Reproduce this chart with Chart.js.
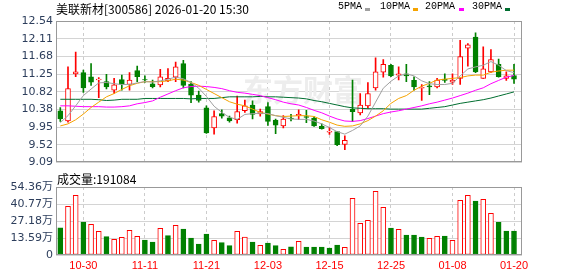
<!DOCTYPE html>
<html>
<head>
<meta charset="utf-8">
<script src="https://cdn.jsdelivr.net/npm/chart.js@4.4.1/dist/chart.umd.min.js"></script>
<style>
  body { margin: 0; background: #fff; }
  #wrap { position: relative; width: 578px; height: 276px; overflow: hidden; }
  canvas { position: absolute; left: 0; }
  .txt { position: absolute; white-space: nowrap; line-height: 16px; color: #000; }
  .cjk { font: 12px "Noto Sans CJK SC", sans-serif; }
  .lg { font: 10px "Liberation Mono", monospace; top: 1px; }
  .sq { position: absolute; top: 8px; width: 5px; height: 3px; }
</style>
</head>
<body>
<div id="wrap">
  <canvas id="price" width="578" height="172" style="top:0"></canvas>
  <canvas id="vol" width="578" height="104" style="top:172px"></canvas>
  <div class="txt cjk" style="left:56px;top:0">美联新材[300586] 2026-01-20 15:30</div>
  <div class="txt lg" style="left:338px">5PMA</div><div class="sq" style="left:365px;background:#a0a0a0"></div>
  <div class="txt lg" style="left:380px">10PMA</div><div class="sq" style="left:413px;background:#f5a300"></div>
  <div class="txt lg" style="left:425px">20PMA</div><div class="sq" style="left:459px;background:#ff00ff"></div>
  <div class="txt lg" style="left:472px">30PMA</div><div class="sq" style="left:505px;background:#006e30"></div>
  <div class="txt cjk" style="left:57px;top:170px">成交量:191084</div>
</div>
<script>
// daily candles, 2025-10-27 .. 2026-01-20
const openP  = [10.35,10.10,11.25,11.28,11.18,11.10,11.06,10.85,11.11,10.99,
                11.33,11.11,11.01,10.98,11.08,11.17,11.50,11.00,10.73,10.42,
                9.93,10.28,10.18,10.13,10.35,10.49,10.27,10.45,10.12,9.98,
                10.17,10.23,10.21,10.17,9.97,9.83,9.84,9.53,10.39,10.30,
                10.47,10.91,11.29,11.46,11.22,11.25,11.09,10.90,10.96,10.93,
                11.12,11.05,11.14,11.88,12.15,11.14,11.30,11.48,11.14,11.21];
const closeP = [10.15,10.89,11.30,10.91,11.05,11.12,10.93,10.98,10.99,11.10,
                11.18,11.10,10.94,11.18,11.14,11.42,10.97,10.73,10.60,9.81,
                10.21,10.22,10.10,10.33,10.47,10.26,10.33,10.09,10.00,10.15,
                10.15,10.26,10.19,9.98,9.91,9.85,9.52,9.63,10.33,10.49,
                10.77,11.30,11.48,11.20,11.25,11.20,10.93,10.92,10.93,11.10,
                11.09,11.10,11.67,11.96,11.30,11.37,11.60,11.18,11.20,11.12];
const highP  = [10.43,11.42,11.78,11.34,11.50,11.16,11.24,11.14,11.22,11.28,
                11.44,11.20,11.10,11.36,11.38,11.54,11.58,11.06,10.83,10.47,
                10.35,10.37,10.22,10.71,10.61,10.59,10.39,10.55,10.15,10.23,
                10.26,10.37,10.36,10.21,10.03,9.95,9.84,9.74,11.10,10.77,
                11.04,11.64,11.60,11.48,11.42,11.48,11.18,10.99,11.06,11.14,
                11.25,11.25,12.07,11.99,12.25,11.91,11.84,11.61,11.30,11.48];
const lowP   = [10.09,10.07,11.18,10.80,10.97,10.67,10.88,10.77,10.85,10.85,
                11.06,11.04,10.91,10.93,11.06,11.06,10.91,10.55,10.56,9.80,
                9.78,10.17,10.07,10.05,10.31,10.15,10.22,9.99,9.79,9.93,
                10.10,10.13,10.06,9.97,9.90,9.77,9.50,9.40,10.09,10.25,
                10.41,10.85,11.17,11.18,11.10,11.06,10.85,10.60,10.74,10.91,
                11.04,10.99,10.99,11.44,11.28,11.14,11.28,11.17,11.09,11.02];

const ma5  = [10.06,10.23,10.47,10.72,10.88,11.03,11.04,11.01,10.99,10.99,
              11.03,11.06,11.05,11.08,11.12,11.17,11.13,11.04,10.90,10.70,
              10.46,10.31,10.19,10.14,10.26,10.28,10.29,10.28,10.23,10.19,
              10.15,10.14,10.14,10.10,10.03,9.94,9.84,9.78,9.87,9.98,
              10.22,10.56,10.90,11.07,11.20,11.25,11.20,11.08,11.01,10.99,
              10.99,11.02,11.20,11.37,11.42,11.46,11.55,11.46,11.33,11.28];
const ma10 = [9.98,10.03,10.13,10.27,10.43,10.56,10.69,10.77,10.87,10.96,
              11.02,11.06,11.06,11.06,11.08,11.12,11.10,11.04,10.97,10.87,
              10.77,10.67,10.57,10.51,10.47,10.39,10.31,10.27,10.23,10.21,
              10.22,10.23,10.23,10.21,10.13,10.07,10.00,9.97,9.98,10.03,
              10.11,10.22,10.35,10.53,10.65,10.72,10.85,10.95,11.02,11.10,
              11.12,11.14,11.16,11.20,11.22,11.22,11.29,11.32,11.34,11.34];
const ma20 = [10.47,10.47,10.46,10.45,10.45,10.45,10.44,10.44,10.45,10.47,
              10.52,10.55,10.59,10.68,10.76,10.84,10.91,10.94,10.95,10.94,
              10.92,10.89,10.84,10.80,10.78,10.75,10.72,10.67,10.62,10.56,
              10.52,10.49,10.43,10.36,10.30,10.22,10.15,10.10,10.09,10.11,
              10.16,10.22,10.28,10.32,10.35,10.39,10.43,10.47,10.52,10.56,
              10.61,10.66,10.72,10.78,10.85,10.91,11.01,11.09,11.17,11.21];
const ma30 = [10.63,10.63,10.63,10.63,10.63,10.62,10.60,10.61,10.63,10.63,
              10.63,10.65,10.65,10.65,10.65,10.65,10.65,10.64,10.65,10.65,
              10.65,10.67,10.69,10.69,10.69,10.69,10.70,10.69,10.69,10.68,
              10.67,10.66,10.64,10.60,10.57,10.53,10.49,10.45,10.42,10.41,
              10.40,10.40,10.40,10.39,10.39,10.39,10.39,10.39,10.41,10.43,
              10.45,10.49,10.53,10.56,10.59,10.62,10.66,10.71,10.76,10.81];

// volume in 万, up = close above previous close
const vol   = [21.8,38.9,47.7,26.4,24.5,18.9,14.7,12.5,14.1,19.7,
               14.9,12.0,10.4,21.3,15.5,23.7,20.8,13.6,8.8,16.8,
               11.7,9.9,7.5,18.9,14.4,10.4,7.7,9.6,7.5,4.5,
               6.6,10.9,6.4,6.4,6.4,5.6,8.0,6.1,45.3,25.3,
               27.7,50.9,38.1,21.6,20.5,16.0,16.0,14.4,13.3,14.9,
               15.2,11.7,43.7,47.7,43.2,44.5,33.3,26.1,19.2,19.11];
const volUp = [0,1,1,0,1,1,0,1,1,1, 1,0,0,1,0,1,0,0,0,0,
               1,0,0,1,1,0,1,0,0,1, 0,1,0,0,0,0,0,1,1,1,
               1,1,1,0,1,0,0,0,1,1, 0,1,1,1,0,1,1,0,0,0];

const xTickIdx    = [3, 11, 19, 27, 35, 43, 51, 59];
const xTickLabels = ['10-30','11-11','11-21','12-03','12-15','12-25','01-08','01-20'];
const priceTicks  = ['9.09','9.52','9.95','10.38','10.82','11.25','11.68','12.11','12.54'];
const volTicks    = ['0','13.59万','27.18万','40.77万','54.36万'];

const P_MIN = 9.09, P_MAX = 12.54, V_MAX = 54.36;
const X_MIN = -0.56, X_MAX = 60.04;
const UP = '#ff0000', DOWN = '#008000';
const LABEL = '#2d3e5c';
const tickFont = {family: '"DejaVu Sans", "Noto Sans CJK SC"', size: 11};

const frame = {
  id: 'frame',
  afterDraw(chart) {
    const {ctx, chartArea: a} = chart;
    ctx.save();
    ctx.strokeStyle = '#999';
    ctx.lineWidth = 1;
    ctx.strokeRect(Math.round(a.left) + 0.5, Math.round(a.top) + 0.5,
                   Math.round(a.right - a.left) - 1, Math.round(a.bottom - a.top) - 1);
    ctx.restore();
  }
};

const watermark = {
  id: 'watermark',
  beforeDatasetsDraw(chart) {
    const ctx = chart.ctx;
    ctx.save();
    ctx.font = 'bold 30px "Noto Sans CJK SC"';
    ctx.fillStyle = '#ededed';
    ctx.textBaseline = 'middle';
    ctx.fillText('东方财富', 243, 90);
    ctx.restore();
  }
};

const xScale = (showLabels, h) => ({
  type: 'linear', min: X_MIN, max: X_MAX, offset: false,
  afterBuildTicks: s => { s.ticks = xTickIdx.map(v => ({value: v})); },
  afterFit: s => { s.height = h; },
  ticks: {
    display: showLabels, autoSkip: false, maxRotation: 0, padding: 4,
    color: UP, font: {family: '"Liberation Sans"', size: 11},
    callback: (v, k) => xTickLabels[k]
  },
  grid: {color: '#cccccc', drawTicks: false, offset: false},
  border: {display: false, dash: [3, 3]}
});

const up = closeP.map((c, i) => c >= openP[i]);
const line = (label, arr, color) => ({
  type: 'line', label, data: arr.map((v, i) => ({x: i, y: v})),
  borderColor: color, borderWidth: 1, pointRadius: 0, tension: 0, order: 1
});

new Chart(document.getElementById('price'), {
  type: 'bar',
  data: {
    datasets: [
      line('5PMA', ma5, '#a0a0a0'),
      line('10PMA', ma10, '#f5a300'),
      line('20PMA', ma20, '#ff00ff'),
      line('30PMA', ma30, '#006e30'),
      {
        label: 'body',
        data: openP.map((o, i) => ({x: i, y: [o, closeP[i]]})),
        backgroundColor: up.map(u => u ? '#ffffff' : DOWN),
        borderColor: up.map(u => u ? UP : DOWN),
        borderWidth: 1, borderSkipped: false, barThickness: 5, grouped: false, order: 5
      },
      {
        label: 'wick',
        data: lowP.map((l, i) => ({x: i, y: [l, highP[i]]})),
        backgroundColor: up.map(u => u ? UP : DOWN),
        barThickness: 1, grouped: false, order: 6
      }
    ]
  },
  options: {
    responsive: false, animation: false, devicePixelRatio: 1,
    layout: {padding: {left: 0, right: 56, top: 21, bottom: 6}},
    plugins: {legend: {display: false}, tooltip: {enabled: false}},
    scales: {
      x: xScale(false, 0),
      y: {
        min: P_MIN, max: P_MAX,
        afterBuildTicks: s => {
          s.ticks = priceTicks.map((t, k) => ({value: P_MIN + k * (P_MAX - P_MIN) / (priceTicks.length - 1)}));
        },
        afterFit: s => { s.width = 56; },
        ticks: {autoSkip: false, padding: 3, color: LABEL, font: tickFont, callback: (v, k) => priceTicks[k]},
        grid: {color: '#d4d4d4', drawTicks: false},
        border: {display: false}
      }
    }
  },
  plugins: [watermark, frame]
});

new Chart(document.getElementById('vol'), {
  type: 'bar',
  data: {
    datasets: [{
      label: '成交量',
      data: vol.map((v, i) => ({x: i, y: v})),
      backgroundColor: volUp.map(u => u ? '#ffffff' : DOWN),
      borderColor: volUp.map(u => u ? UP : DOWN),
      borderWidth: 1, borderSkipped: false, barThickness: 5
    }]
  },
  options: {
    responsive: false, animation: false, devicePixelRatio: 1,
    layout: {padding: {left: 0, right: 56, top: 15, bottom: 0}},
    plugins: {legend: {display: false}, tooltip: {enabled: false}},
    scales: {
      x: xScale(true, 21),
      y: {
        min: 0, max: V_MAX,
        afterBuildTicks: s => {
          s.ticks = volTicks.map((t, k) => ({value: k * V_MAX / (volTicks.length - 1)}));
        },
        afterFit: s => { s.width = 56; },
        ticks: {autoSkip: false, padding: 3, color: LABEL, font: tickFont, callback: (v, k) => volTicks[k]},
        grid: {color: '#d4d4d4', drawTicks: false},
        border: {display: false}
      }
    }
  },
  plugins: [frame]
});
</script>
</body>
</html>
